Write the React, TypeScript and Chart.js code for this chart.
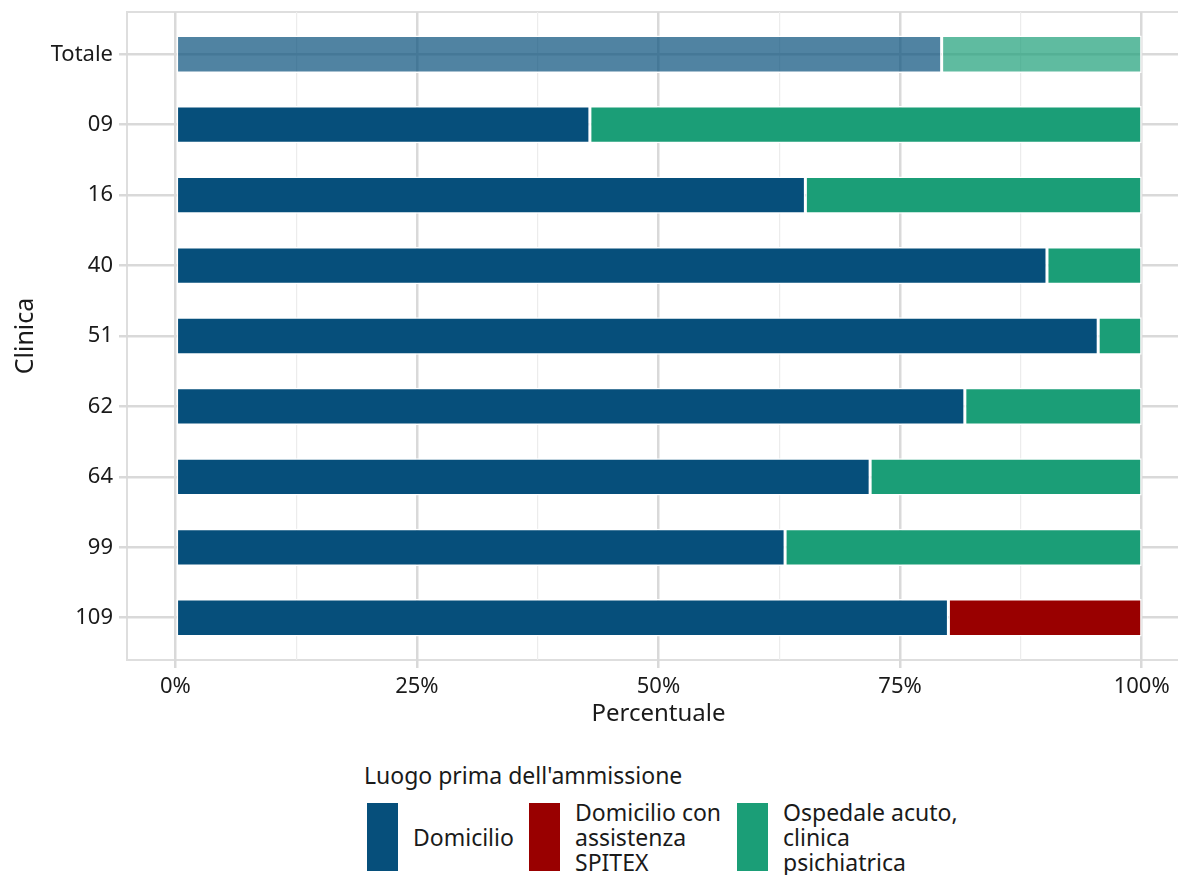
import React, { useEffect, useRef } from "react";
import { Chart, registerables } from "chart.js";

Chart.register(...registerables);

const categories = ["Totale", "09", "16", "40", "51", "62", "64", "99", "109"];
const domicilio = [79.3, 42.9, 65.2, 90.2, 95.5, 81.7, 71.9, 63.1, 80.0];
const spitex = [0, 0, 0, 0, 0, 0, 0, 0, 20.0];
const ospedale = [20.7, 57.1, 34.8, 9.8, 4.5, 18.3, 28.1, 36.9, 0];
const xTicks = [0, 12.5, 25, 37.5, 50, 62.5, 75, 87.5, 100];
const seriesNames = ["Domicilio", "Domicilio con assistenza SPITEX", "Ospedale acuto, clinica psichiatrica"];
const legendLines = [["Domicilio"], ["Domicilio con", "assistenza", "SPITEX"], ["Ospedale acuto,", "clinica", "psichiatrica"]];
const colors = ["#064f7b", "#990000", "#1b9e77"];
const colorsFaded = ["rgba(6,79,123,0.7)", "rgba(153,0,0,0.7)", "rgba(27,158,119,0.7)"];

const FONT = "'Noto Sans', sans-serif";

const borderPlugin = {
  id: "panelBorder",
  beforeDraw(chart: any) {
    const { ctx, chartArea } = chart;
    ctx.save();
    ctx.strokeStyle = "#dedede";
    ctx.lineWidth = 2;
    ctx.strokeRect(chartArea.left, chartArea.top, chartArea.right - chartArea.left, chartArea.bottom - chartArea.top);
    ctx.restore();
  },
};

export default function App() {
  const ref = useRef<HTMLCanvasElement>(null);
  useEffect(() => {
    document.body.style.margin = "0";
    const values = [domicilio, spitex, ospedale];
    const chart = new Chart(ref.current!, {
      type: "bar",
      data: {
        datasets: values.map((vals, si) => ({
          label: seriesNames[si],
          data: vals.map((v, i) => ({ x: v, y: i })),
          backgroundColor: (c: any) => (c.dataIndex === 0 ? colorsFaded[si] : colors[si]),
          borderColor: "#ffffff",
          borderWidth: 1.5,
          borderSkipped: false,
          barPercentage: 0.53,
          categoryPercentage: 1,
        })),
      },
      options: {
        indexAxis: "y",
        animation: false,
        responsive: false,
        maintainAspectRatio: false,
        layout: { padding: { left: 0, right: 0, top: 12, bottom: 0 } },
        plugins: { legend: { display: false }, tooltip: { enabled: false } },
        scales: {
          x: {
            type: "linear",
            stacked: true,
            min: -5,
            max: 105,
            afterBuildTicks: (s: any) => {
              s.ticks = xTicks.map((v) => ({ value: v }));
            },
            afterFit: (s: any) => {
              s.height = 80;
            },
            grid: {
              color: (c: any) => (c.tick && c.tick.value % 25 === 0 ? "#d9d9d9" : "#ececec"),
              lineWidth: (c: any) => (c.tick && c.tick.value % 25 === 0 ? 2.5 : 1.2),
              tickColor: (c: any) => (c.tick && c.tick.value % 25 === 0 ? "#d9d9d9" : "rgba(0,0,0,0)"),
              tickLength: 8,
            },
            border: { display: false },
            ticks: {
              autoSkip: false,
              maxRotation: 0,
              padding: 6,
              color: "#1a1a1a",
              font: { family: FONT, size: 22 },
              callback: (v: any) => (Number(v) % 25 === 0 ? `${v}%` : ""),
            },
            title: {
              display: true,
              text: "Percentuale",
              color: "#1a1a1a",
              font: { family: FONT, size: 24 },
              padding: { top: 2, bottom: 11 },
            },
          },
          y: {
            type: "linear",
            stacked: true,
            reverse: true,
            offset: false,
            min: -0.6,
            max: categories.length - 1 + 0.6,
            afterBuildTicks: (s: any) => {
              s.ticks = categories.map((_, i) => ({ value: i }));
            },
            afterFit: (s: any) => {
              s.width = 127;
              s.paddingTop = 0;
              s.paddingBottom = 0;
            },
            grid: { color: "#d9d9d9", lineWidth: 2.5, tickLength: 8, offset: false },
            border: { display: false },
            ticks: {
              autoSkip: false,
              padding: 6,
              color: "#1a1a1a",
              font: { family: FONT, size: 22 },
              callback: (v: any) => categories[Number(v)] ?? "",
            },
            title: {
              display: true,
              text: "Clinica",
              color: "#1a1a1a",
              font: { family: FONT, size: 25 },
              padding: { top: 11, bottom: 0 },
            },
          },
        },
      },
      plugins: [borderPlugin],
    } as any);
    return () => chart.destroy();
  }, []);

  const keyX = [367, 529, 737];
  return (
    <div style={{ position: "relative", width: 1178, height: 875, overflow: "hidden", fontFamily: FONT, color: "#1a1a1a" }}>
      <canvas ref={ref} width={1190} height={740} style={{ display: "block" }} />
      <div style={{ position: "absolute", left: 364, top: 762, fontSize: 23, lineHeight: "26px", whiteSpace: "nowrap" }}>
        Luogo prima dell'ammissione
      </div>
      {legendLines.map((lines, i) => (
        <React.Fragment key={i}>
          <div style={{ position: "absolute", left: keyX[i], top: 803, width: 31, height: 68, background: colors[i] }} />
          <div
            style={{
              position: "absolute",
              left: keyX[i] + 46,
              top: 803,
              height: 68,
              display: "flex",
              flexDirection: "column",
              justifyContent: "center",
              fontSize: 23,
              lineHeight: "25px",
              whiteSpace: "nowrap",
            }}
          >
            {lines.map((l, j) => (
              <div key={j}>{l}</div>
            ))}
          </div>
        </React.Fragment>
      ))}
    </div>
  );
}
